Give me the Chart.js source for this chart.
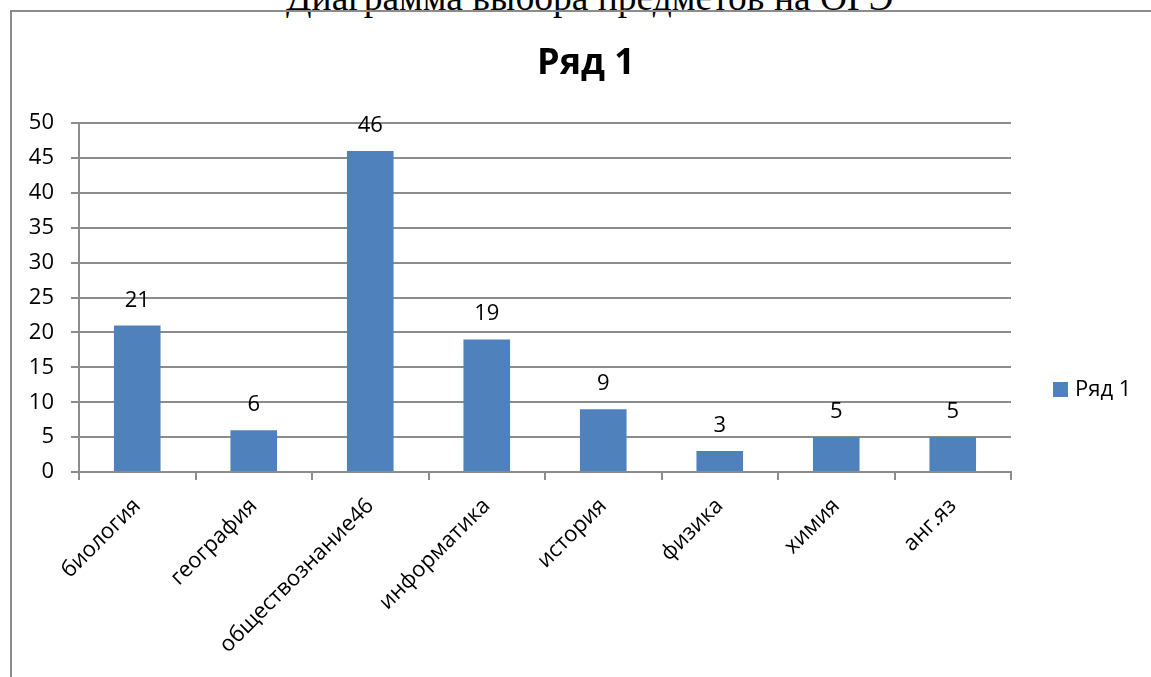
<!DOCTYPE html>
<html>
<head>
<meta charset="utf-8">
<script src="https://cdn.jsdelivr.net/npm/chart.js@4"></script>
<style>
  html, body { margin: 0; padding: 0; background: #fff; overflow: hidden; }
  body { width: 1151px; height: 677px; position: relative; }
  #docTitle {
    position: absolute; left: 286px; top: -21px; white-space: nowrap;
    font-family: "Liberation Serif", "Times New Roman", serif; font-size: 37.5px; line-height: 1; color: #000;
  }
  #frame {
    position: absolute; left: 10px; top: 10px; width: 1300px; height: 900px;
    border: 2px solid #8c8c8c; box-sizing: border-box;
  }
  #wrap { position: absolute; left: 0; top: 0; width: 1151px; height: 677px; }
</style>
</head>
<body>
<div id="docTitle">Диаграмма выбора предметов на ОГЭ</div>
<div id="frame"></div>
<div id="wrap"><canvas id="chart"></canvas></div>
<script>
const categories = ['биология', 'география', 'обществознание46', 'информатика', 'история', 'физика', 'химия', 'анг.яз'];
const seriesName = 'Ряд 1';
const values = [21, 6, 46, 19, 9, 3, 5, 5];
const yTicks = [0, 5, 10, 15, 20, 25, 30, 35, 40, 45, 50];

const font = '"Open Sans", "Noto Sans", sans-serif';
const gray = '#8c8c8c';
const blue = '#4f81bd';

// value labels above bars
const barLabels = {
    id: 'barLabels',
    afterDatasetsDraw(chart) {
        const ctx = chart.ctx;
        const meta = chart.getDatasetMeta(0);
        ctx.save();
        ctx.font = '22px ' + font;
        ctx.fillStyle = '#000';
        ctx.textAlign = 'center';
        ctx.textBaseline = 'alphabetic';
        meta.data.forEach((bar, i) => {
            ctx.fillText(String(chart.data.datasets[0].data[i]), bar.x, bar.y - 19);
        });
        ctx.restore();
    },
};

// legend on the right, centred on the whole frame
const sideLegend = {
    id: 'sideLegend',
    afterDraw(chart) {
        const ctx = chart.ctx;
        const ds = chart.data.datasets[0];
        const x = chart.chartArea.right + 42;
        const y = 390;
        ctx.save();
        ctx.fillStyle = ds.backgroundColor;
        ctx.fillRect(x, y - 8, 15, 15);
        ctx.font = '22px ' + font;
        ctx.fillStyle = '#000';
        ctx.textAlign = 'left';
        ctx.textBaseline = 'middle';
        ctx.fillText(ds.label, x + 22, y);
        ctx.restore();
    },
};

new Chart(document.getElementById('chart'), {
    type: 'bar',
    data: {
        labels: categories,
        datasets: [
            {
                label: seriesName,
                data: values,
                backgroundColor: blue,
                barPercentage: 0.4,
                categoryPercentage: 1,
            },
        ],
    },
    options: {
        responsive: true,
        maintainAspectRatio: false,
        animation: false,
        layout: { padding: { left: 21, right: 0, top: 0, bottom: 0 } },
        plugins: {
            legend: { display: false },
            tooltip: { enabled: false },
            title: {
                display: true,
                text: seriesName,
                color: '#000',
                font: { family: font, size: 36, weight: 'bold', lineHeight: 1.2 },
                padding: { top: 42, bottom: 38 },
            },
        },
        scales: {
            x: {
                offset: true,
                afterFit(scale) { scale.height = 205; },
                grid: {
                    offset: true,
                    drawOnChartArea: false,
                    drawTicks: true,
                    tickLength: 8,
                    color: gray,
                    lineWidth: 2,
                },
                border: { display: true, color: gray, width: 2 },
                ticks: {
                    minRotation: 45,
                    maxRotation: 45,
                    autoSkip: false,
                    color: '#000',
                    padding: 13,
                    font: { family: font, size: 22 },
                },
            },
            y: {
                min: 0,
                max: 50,
                afterFit(scale) { scale.width = 58; },
                afterBuildTicks(scale) { scale.ticks = yTicks.map(v => ({ value: v })); },
                grid: { color: gray, lineWidth: 2, tickLength: 8, drawTicks: true },
                border: { display: true, color: gray, width: 2 },
                ticks: {
                    color: '#000',
                    padding: 17,
                    font: { family: font, size: 22 },
                },
            },
            // empty axis that only keeps room for the legend on the right
            side: {
                type: 'linear',
                position: 'right',
                afterFit(scale) { scale.width = 140; },
                grid: { display: false },
                border: { display: false },
                ticks: { display: false },
            },
        },
    },
    plugins: [barLabels, sideLegend],
});
</script>
</body>
</html>
